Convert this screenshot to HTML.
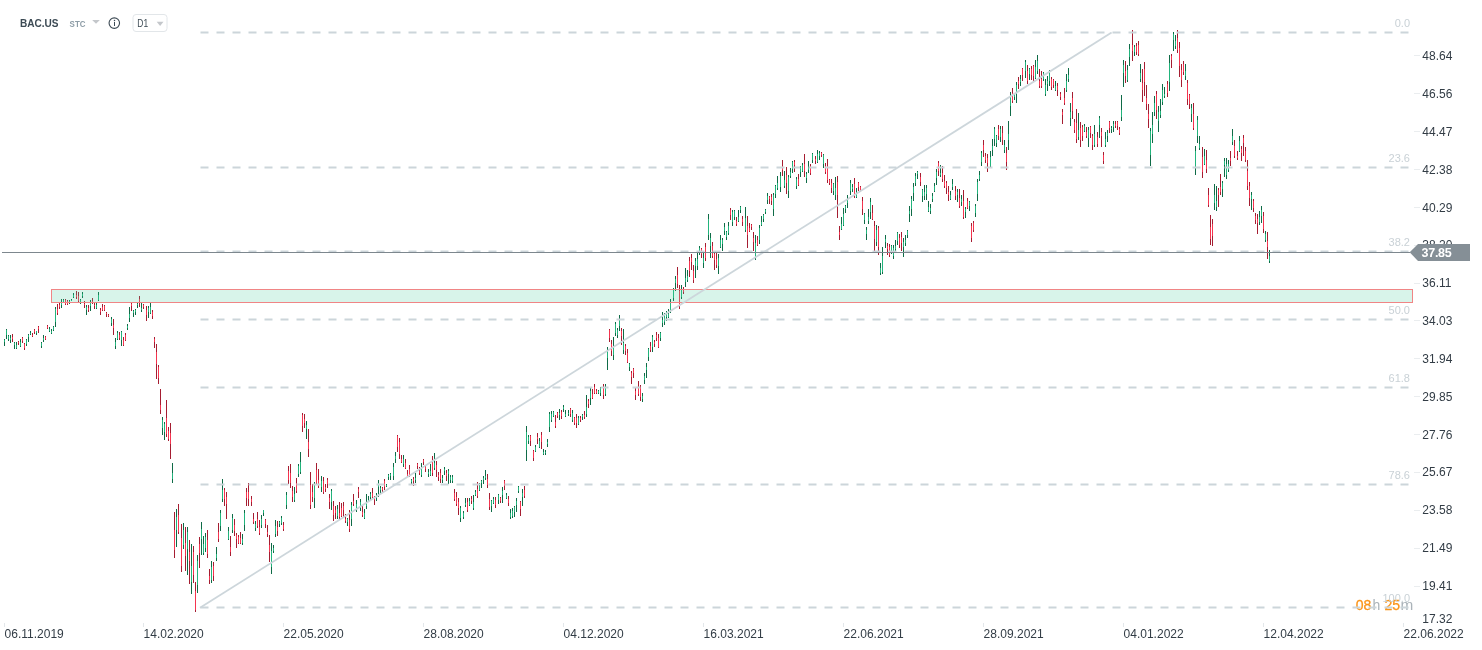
<!DOCTYPE html>
<html><head><meta charset="utf-8"><title>BAC.US</title><style>
html,body{margin:0;padding:0;background:#fff;width:1482px;height:650px;overflow:hidden}
svg{position:absolute;left:0;top:0;display:block;will-change:transform}
text{font-family:"Liberation Sans",Arial,sans-serif}
</style></head><body>
<svg width="1482" height="650" viewBox="0 0 1482 650">
<g stroke-width="1" fill="none" shape-rendering="crispEdges"><path d="M4.5 339V346M6.5 329V339M8.5 335V341M10.5 335V343M14.5 342V349M16.5 342V349M20.5 339V347M26.5 339V346M28.5 334V342M30.5 331V335M36.5 331V335M41.5 342V348M43.5 335V342M49.5 327V332M51.5 329V334M53.5 326V331M55.5 307V327M61.5 299V308M63.5 299V302M69.5 300V304M71.5 299V301M73.5 293V298M80.5 299V304M82.5 292V298M86.5 305V315M90.5 300V311M96.5 303V309M98.5 292V301M111.5 317V326M115.5 338V349M117.5 331V340M121.5 331V346M127.5 324V330M129.5 307V322M133.5 310V317M135.5 309V315M137.5 303V308M141.5 303V312M148.5 306V318M150.5 303V314M162.5 417V435M164.5 422V440M172.5 463V483M176.5 509V547M183.5 523V549M187.5 527V575M191.5 544V594M197.5 555V593M201.5 522V555M203.5 536V555M205.5 533V552M211.5 561V583M216.5 547V561M220.5 510V531M222.5 479V502M228.5 527V540M232.5 514V533M242.5 534V545M244.5 510V531M255.5 521V531M261.5 515V528M263.5 510V516M271.5 543V574M273.5 545V553M275.5 520V537M279.5 521V527M281.5 516V525M286.5 492V509M294.5 487V502M298.5 464V477M300.5 452V474M306.5 421V439M314.5 482V508M321.5 476V492M331.5 489V510M337.5 505V519M347.5 518V526M351.5 502V526M356.5 500V512M360.5 499V511M364.5 509V519M366.5 494V509M368.5 496V502M370.5 492V500M376.5 493V501M378.5 480V497M380.5 486V494M386.5 484V487M388.5 474V480M390.5 473V480M393.5 463V480M395.5 452V463M403.5 455V467M411.5 479V484M415.5 473V483M421.5 463V477M428.5 469V477M430.5 464V476M434.5 453V470M442.5 475V483M444.5 467V475M448.5 469V484M450.5 475V483M452.5 475V483M460.5 506V522M463.5 511V519M465.5 498V507M469.5 498V506M473.5 495V510M475.5 490V496M479.5 483V491M481.5 480V488M483.5 476V484M485.5 470V480M491.5 500V512M493.5 497V504M498.5 494V504M502.5 487V503M506.5 493V499M510.5 509V519M512.5 508V518M514.5 506V517M516.5 498V512M518.5 486V493M522.5 489V506M526.5 426V461M528.5 435V444M535.5 445V452M539.5 438V448M543.5 449V455M545.5 450V455M547.5 439V447M549.5 412V432M551.5 411V422M553.5 411V417M559.5 409V420M563.5 405V412M565.5 410V417M568.5 410V416M572.5 410V422M578.5 416V425M582.5 414V420M586.5 395V417M590.5 388V405M598.5 390V394M600.5 387V396M605.5 384V396M607.5 347V370M613.5 337V360M615.5 322V336M617.5 328V338M619.5 315V331M623.5 329V354M629.5 363V371M642.5 393V402M644.5 373V384M646.5 363V378M648.5 348V361M652.5 335V352M660.5 332V341M662.5 312V327M664.5 313V325M666.5 311V321M668.5 309V318M670.5 299V313M673.5 288V301M675.5 276V291M681.5 285V299M685.5 268V287M687.5 270V282M695.5 258V278M697.5 253V270M699.5 246V255M703.5 253V268M708.5 214V240M710.5 233V258M718.5 254V274M720.5 235V248M722.5 238V251M724.5 223V235M726.5 231V240M728.5 222V235M732.5 210V226M734.5 210V220M738.5 210V222M740.5 206V213M745.5 207V232M755.5 235V260M759.5 225V244M761.5 216V226M763.5 214V222M765.5 209V214M767.5 193V204M773.5 193V216M775.5 185V198M777.5 176V190M780.5 172V192M784.5 171V188M788.5 175V198M790.5 168V178M792.5 161V173M796.5 177V189M800.5 166V177M802.5 163V172M806.5 172V183M808.5 161V173M812.5 153V163M817.5 150V163M819.5 151V160M823.5 154V168M833.5 183V195M835.5 177V200M841.5 217V230M843.5 208V226M845.5 205V213M847.5 195V208M850.5 180V195M852.5 184V192M856.5 188V198M864.5 213V224M866.5 227V240M868.5 209V224M870.5 198V219M876.5 225V246M880.5 263V275M882.5 247V274M885.5 235V248M891.5 245V254M893.5 245V259M895.5 240V251M897.5 232V245M903.5 238V257M905.5 235V246M907.5 230V238M909.5 206V222M911.5 196V216M913.5 183V201M915.5 173V186M917.5 171V179M922.5 189V202M924.5 185V200M926.5 185V200M928.5 201V212M930.5 204V214M932.5 193V202M934.5 183V192M936.5 169V185M940.5 165V177M950.5 191V200M952.5 179V190M957.5 189V202M961.5 195V206M965.5 207V218M969.5 201V211M975.5 204V217M977.5 179V201M979.5 171V181M981.5 151V166M990.5 151V168M992.5 139V156M994.5 127V146M996.5 135V147M1000.5 126V142M1004.5 140V153M1008.5 121V150M1010.5 92V116M1014.5 94V100M1016.5 82V103M1020.5 75V86M1025.5 60V78M1029.5 68V80M1035.5 60V79M1037.5 55V74M1043.5 72V81M1045.5 79V96M1047.5 76V91M1049.5 70V86M1055.5 81V91M1066.5 74V92M1068.5 68V82M1070.5 103V126M1078.5 113V140M1084.5 124V132M1088.5 127V147M1094.5 125V147M1099.5 116V138M1105.5 132V147M1107.5 130V142M1111.5 126V133M1113.5 121V132M1121.5 95V121M1123.5 60V87M1127.5 65V82M1129.5 44V66M1134.5 45V56M1140.5 64V82M1150.5 128V166M1152.5 112V143M1154.5 96V116M1158.5 106V132M1160.5 99V118M1162.5 84V105M1164.5 87V98M1169.5 55V91M1173.5 32V51M1175.5 35V49M1185.5 64V80M1191.5 104V122M1195.5 146V175M1197.5 116V143M1199.5 136V150M1204.5 149V165M1214.5 184V210M1216.5 186V211M1222.5 181V197M1224.5 158V177M1226.5 158V179M1228.5 160V172M1232.5 129V145M1239.5 136V152M1251.5 192V210M1259.5 211V225M1261.5 206V223M1265.5 231V242M1269.5 250V263" stroke="#0f6b47"/><path d="M4.5 340V342M6.5 330V335M8.5 336V339M10.5 338V340M14.5 343V345M16.5 345V348M20.5 342V346M26.5 340V344M28.5 335V337M30.5 333V334M36.5 331V333M41.5 343V346M43.5 338V340M49.5 329V331M51.5 331V333M53.5 327V330M55.5 309V322M61.5 303V305M63.5 300V302M69.5 301V303M71.5 300V301M73.5 295V297M80.5 300V303M82.5 294V296M86.5 307V310M90.5 303V306M96.5 305V308M98.5 295V300M111.5 319V323M115.5 342V346M117.5 333V339M121.5 332V340M127.5 326V328M129.5 314V318M133.5 311V313M135.5 310V312M137.5 304V305M141.5 308V310M148.5 308V312M150.5 307V313M162.5 420V428M164.5 424V432M172.5 473V479M176.5 517V530M183.5 530V545M187.5 532V549M191.5 566V582M197.5 561V585M201.5 529V539M203.5 544V553M205.5 537V548M211.5 567V580M216.5 554V558M220.5 513V526M222.5 490V499M228.5 531V539M232.5 518V530M242.5 539V543M244.5 513V525M255.5 524V528M261.5 519V525M263.5 510V513M271.5 551V567M273.5 548V551M275.5 526V534M279.5 522V524M281.5 518V523M286.5 495V505M294.5 494V500M298.5 466V474M300.5 462V472M306.5 425V429M314.5 485V498M321.5 481V487M331.5 491V502M337.5 509V516M347.5 519V522M351.5 505V519M356.5 504V509M360.5 502V508M364.5 513V518M366.5 502V506M368.5 500V501M370.5 494V497M376.5 495V498M378.5 483V487M380.5 488V490M386.5 485V486M388.5 475V477M390.5 474V476M393.5 467V476M395.5 456V459M403.5 459V464M411.5 480V482M415.5 478V480M421.5 467V475M428.5 472V474M430.5 471V475M434.5 463V468M442.5 478V480M444.5 469V471M448.5 471V474M450.5 477V480M452.5 477V481M460.5 508V518M463.5 513V517M465.5 503V505M469.5 501V505M473.5 502V508M475.5 492V495M479.5 486V490M481.5 481V483M483.5 478V480M485.5 476V478M491.5 501V506M493.5 499V503M498.5 495V500M502.5 491V495M506.5 495V498M510.5 513V517M512.5 511V516M514.5 507V512M516.5 501V505M518.5 487V491M522.5 493V497M526.5 432V450M528.5 437V441M535.5 447V451M539.5 441V447M543.5 452V454M545.5 452V453M547.5 442V444M549.5 414V427M551.5 414V420M553.5 412V416M559.5 413V415M563.5 407V409M565.5 414V416M568.5 413V414M572.5 413V420M578.5 418V424M582.5 415V417M586.5 407V414M590.5 391V398M598.5 391V393M600.5 388V393M605.5 388V394M607.5 350V358M613.5 347V355M615.5 324V333M617.5 330V335M619.5 319V326M623.5 343V350M629.5 364V367M642.5 396V399M644.5 376V380M646.5 367V370M648.5 349V357M652.5 337V347M660.5 333V338M662.5 320V323M664.5 315V322M666.5 312V317M668.5 314V317M670.5 303V311M673.5 290V298M675.5 279V283M681.5 290V297M685.5 278V282M687.5 276V280M695.5 261V266M697.5 259V266M699.5 248V251M703.5 258V263M708.5 219V235M710.5 238V246M718.5 258V266M720.5 240V247M722.5 240V244M724.5 227V231M726.5 232V237M728.5 226V233M732.5 212V222M734.5 211V217M738.5 217V221M740.5 207V210M745.5 218V230M755.5 243V258M759.5 228V240M761.5 222V225M763.5 215V219M765.5 210V212M767.5 196V200M773.5 195V209M775.5 186V194M777.5 183V188M780.5 176V187M784.5 180V186M788.5 177V191M790.5 172V176M792.5 162V169M796.5 179V186M800.5 168V172M802.5 165V171M806.5 174V178M808.5 168V170M812.5 154V160M817.5 154V162M819.5 153V156M823.5 155V164M833.5 184V191M835.5 188V195M841.5 224V229M843.5 214V225M845.5 206V209M847.5 200V203M850.5 183V191M852.5 187V189M856.5 192V197M864.5 214V220M866.5 230V234M868.5 217V221M870.5 202V212M876.5 230V242M880.5 268V273M882.5 256V272M885.5 239V242M891.5 246V252M893.5 248V256M895.5 246V249M897.5 233V241M903.5 242V247M905.5 240V243M907.5 231V235M909.5 211V214M911.5 199V209M913.5 187V193M915.5 176V183M917.5 172V174M922.5 190V196M924.5 192V196M926.5 188V194M928.5 207V211M930.5 208V211M932.5 196V199M934.5 186V191M936.5 172V178M940.5 173V175M950.5 195V199M952.5 184V187M957.5 192V195M961.5 199V202M965.5 209V212M969.5 202V206M975.5 206V213M977.5 182V194M979.5 175V179M981.5 153V162M990.5 157V166M992.5 146V150M994.5 129V139M996.5 136V143M1000.5 129V137M1004.5 145V150M1008.5 134V140M1010.5 96V106M1014.5 95V97M1016.5 85V94M1020.5 79V82M1025.5 62V71M1029.5 69V74M1035.5 67V78M1037.5 61V71M1043.5 73V79M1045.5 85V94M1047.5 81V84M1049.5 72V81M1055.5 86V90M1066.5 81V90M1068.5 75V79M1070.5 112V118M1078.5 130V137M1084.5 126V131M1088.5 130V138M1094.5 134V145M1099.5 118V125M1105.5 139V145M1107.5 133V136M1111.5 128V129M1113.5 124V127M1121.5 110V117M1123.5 65V73M1127.5 70V80M1129.5 49V57M1134.5 47V52M1140.5 73V79M1150.5 131V155M1152.5 125V134M1154.5 103V112M1158.5 112V121M1160.5 111V115M1162.5 90V102M1164.5 94V96M1169.5 63V82M1173.5 34V40M1175.5 41V46M1185.5 71V76M1191.5 108V114M1195.5 151V167M1197.5 120V136M1199.5 144V148M1204.5 156V164M1214.5 195V203M1216.5 201V207M1222.5 183V189M1224.5 161V165M1226.5 164V175M1228.5 164V170M1232.5 136V142M1239.5 141V151M1251.5 195V199M1259.5 217V222M1261.5 210V216M1265.5 234V240M1269.5 256V261" stroke="#22b47c"/><path d="M12.5 334V342M18.5 341V345M22.5 337V343M24.5 343V350M32.5 333V337M34.5 329V334M38.5 326V333M45.5 336V340M47.5 325V329M57.5 304V315M59.5 303V309M65.5 299V305M67.5 300V305M76.5 291V299M78.5 292V302M84.5 301V308M88.5 305V312M92.5 298V304M94.5 303V309M100.5 308V315M102.5 304V311M104.5 305V311M106.5 312V317M108.5 314V317M113.5 319V335M119.5 332V340M123.5 337V346M125.5 333V341M131.5 303V311M139.5 296V307M143.5 304V309M146.5 306V321M152.5 310V319M154.5 337V348M156.5 344V379M158.5 365V384M160.5 389V414M166.5 400V437M168.5 427V441M170.5 423V459M174.5 512V558M178.5 504V534M181.5 524V572M185.5 527V571M189.5 540V584M193.5 546V583M195.5 582V612M199.5 537V568M207.5 530V558M209.5 569V584M213.5 562V581M218.5 523V542M224.5 488V506M226.5 492V519M230.5 536V556M234.5 519V536M236.5 533V548M238.5 535V544M240.5 532V544M246.5 488V506M248.5 483V506M251.5 496V506M253.5 513V524M257.5 512V528M259.5 520V535M265.5 519V528M267.5 525V537M269.5 535V562M277.5 521V536M283.5 522V531M288.5 466V484M290.5 464V488M292.5 486V502M296.5 478V493M302.5 413V432M304.5 414V428M308.5 429V457M310.5 472V509M312.5 484V502M316.5 463V484M318.5 469V488M323.5 477V494M325.5 484V492M327.5 478V488M329.5 494V509M333.5 501V521M335.5 506V519M339.5 502V519M341.5 503V517M343.5 502V517M345.5 514V523M349.5 510V532M353.5 494V506M358.5 487V498M362.5 506V517M372.5 488V498M374.5 496V505M382.5 487V492M384.5 479V490M397.5 435V452M399.5 438V459M401.5 455V463M405.5 459V469M407.5 470V477M409.5 465V477M413.5 477V486M417.5 463V469M419.5 467V475M423.5 459V465M425.5 465V472M432.5 456V476M436.5 461V477M438.5 472V481M440.5 469V483M446.5 470V481M454.5 489V501M456.5 492V506M458.5 498V515M467.5 498V512M471.5 496V504M477.5 482V498M487.5 474V488M489.5 493V510M495.5 497V508M500.5 497V503M504.5 480V490M508.5 496V506M520.5 501V516M524.5 486V498M530.5 435V446M533.5 450V461M537.5 433V444M541.5 432V449M555.5 415V428M557.5 412V418M561.5 410V419M570.5 408V417M574.5 417V425M576.5 414V428M580.5 416V422M584.5 411V419M588.5 399V408M592.5 389V399M594.5 384V394M596.5 389V394M603.5 384V399M609.5 329V342M611.5 340V356M621.5 328V345M625.5 344V355M627.5 349V363M631.5 371V384M633.5 368V378M635.5 388V400M638.5 381V396M640.5 385V401M650.5 342V352M654.5 340V347M656.5 332V341M658.5 334V348M677.5 267V288M679.5 285V309M683.5 287V294M689.5 257V277M691.5 254V270M693.5 265V283M701.5 248V258M705.5 243V261M712.5 242V258M714.5 252V270M716.5 253V268M730.5 208V220M736.5 217V226M742.5 216V226M747.5 216V248M749.5 223V232M751.5 224V230M753.5 232V251M757.5 236V246M769.5 196V204M771.5 194V205M782.5 160V176M786.5 167V194M794.5 160V172M798.5 174V186M804.5 154V177M810.5 164V175M815.5 156V164M821.5 152V157M825.5 163V174M827.5 159V183M829.5 179V185M831.5 179V193M837.5 176V218M839.5 226V240M854.5 178V198M858.5 182V191M860.5 186V192M862.5 197V215M872.5 205V220M874.5 221V251M878.5 226V255M887.5 243V255M889.5 244V257M899.5 234V248M901.5 232V251M920.5 173V186M938.5 161V176M942.5 166V182M944.5 175V188M946.5 181V194M948.5 186V201M955.5 186V200M959.5 189V208M963.5 190V219M967.5 198V209M971.5 223V242M973.5 221V232M983.5 140V157M985.5 153V163M987.5 154V172M998.5 125V140M1002.5 126V145M1006.5 147V170M1012.5 88V103M1018.5 77V89M1022.5 68V81M1027.5 65V84M1031.5 66V80M1033.5 65V81M1039.5 69V88M1041.5 71V88M1051.5 77V90M1053.5 79V88M1057.5 83V96M1060.5 92V100M1062.5 109V124M1064.5 88V105M1072.5 92V119M1074.5 119V133M1076.5 109V143M1080.5 122V147M1082.5 125V141M1086.5 127V138M1090.5 126V138M1092.5 134V150M1097.5 132V147M1101.5 128V147M1103.5 152V164M1109.5 121V133M1115.5 121V128M1117.5 121V130M1119.5 127V135M1125.5 61V83M1132.5 30V61M1136.5 43V55M1138.5 41V56M1142.5 69V102M1144.5 62V96M1146.5 85V110M1148.5 104V128M1156.5 91V119M1167.5 81V97M1171.5 54V68M1177.5 30V53M1179.5 42V77M1181.5 64V87M1183.5 61V75M1187.5 80V105M1189.5 94V109M1193.5 103V130M1202.5 147V178M1206.5 150V173M1208.5 188V207M1210.5 215V245M1212.5 219V246M1218.5 188V207M1220.5 174V195M1230.5 151V166M1234.5 140V158M1237.5 151V160M1241.5 146V161M1243.5 135V156M1245.5 147V162M1247.5 160V190M1249.5 182V206M1253.5 199V212M1255.5 213V224M1257.5 214V234M1263.5 212V233M1267.5 232V259" stroke="#a51d31"/><path d="M12.5 337V339M18.5 342V343M22.5 338V341M24.5 344V348M32.5 335V336M34.5 330V332M38.5 327V329M45.5 337V339M47.5 326V328M57.5 309V313M59.5 305V307M65.5 300V304M67.5 301V304M76.5 295V297M78.5 296V301M84.5 304V305M88.5 308V310M92.5 301V303M94.5 305V306M100.5 310V312M102.5 307V310M104.5 306V310M106.5 313V314M108.5 315V316M113.5 325V328M119.5 335V338M123.5 340V345M125.5 335V340M131.5 304V306M139.5 299V302M143.5 305V307M146.5 310V315M152.5 312V316M154.5 339V342M156.5 352V364M158.5 367V378M160.5 405V410M166.5 418V434M168.5 431V439M170.5 433V444M174.5 530V550M178.5 515V532M181.5 538V566M185.5 543V556M189.5 552V561M193.5 552V575M195.5 591V610M199.5 544V553M207.5 540V554M209.5 576V580M213.5 566V576M218.5 532V539M224.5 490V499M226.5 497V504M230.5 547V552M234.5 525V531M236.5 535V539M238.5 537V543M240.5 538V543M246.5 492V498M248.5 492V499M251.5 499V502M253.5 519V522M257.5 519V526M259.5 527V533M265.5 520V524M267.5 532V534M269.5 545V552M277.5 527V531M283.5 525V529M288.5 471V480M290.5 473V483M292.5 491V497M296.5 483V491M302.5 415V426M304.5 419V423M308.5 442V449M310.5 485V505M312.5 492V497M316.5 470V483M318.5 480V486M323.5 481V492M325.5 487V489M327.5 480V484M329.5 498V502M333.5 506V515M335.5 510V513M339.5 513V517M341.5 508V516M343.5 506V510M345.5 519V521M349.5 520V529M353.5 501V504M358.5 489V492M362.5 512V515M372.5 493V497M374.5 497V500M382.5 488V490M384.5 481V487M397.5 436V447M399.5 442V454M401.5 459V462M405.5 463V468M407.5 474V476M409.5 469V475M413.5 479V481M417.5 464V466M419.5 471V473M423.5 460V462M425.5 467V469M432.5 460V473M436.5 465V470M438.5 475V477M440.5 473V479M446.5 473V476M454.5 493V499M456.5 497V504M458.5 502V508M467.5 502V510M471.5 499V501M477.5 489V496M487.5 479V485M489.5 499V507M495.5 500V505M500.5 498V501M504.5 481V486M508.5 499V503M520.5 502V509M524.5 490V496M530.5 436V441M533.5 451V458M537.5 437V439M541.5 435V442M555.5 422V426M557.5 413V416M561.5 412V416M570.5 409V414M574.5 418V423M576.5 418V423M580.5 418V420M584.5 415V417M588.5 401V404M592.5 394V398M594.5 387V393M596.5 391V393M603.5 387V395M609.5 330V338M611.5 344V351M621.5 331V336M625.5 346V351M627.5 353V362M631.5 373V377M633.5 369V373M635.5 391V395M638.5 387V394M640.5 388V397M650.5 346V350M654.5 342V344M656.5 335V338M658.5 338V347M677.5 275V284M679.5 291V306M683.5 289V292M689.5 261V271M691.5 258V262M693.5 271V280M701.5 249V254M705.5 247V258M712.5 246V256M714.5 254V260M716.5 259V265M730.5 210V215M736.5 221V224M742.5 219V222M747.5 226V235M749.5 228V231M751.5 225V227M753.5 238V242M757.5 240V245M769.5 197V199M771.5 197V201M782.5 166V170M786.5 175V183M794.5 162V165M798.5 179V185M804.5 164V171M810.5 166V173M815.5 159V161M821.5 153V155M825.5 166V172M827.5 166V180M829.5 180V183M831.5 183V188M837.5 182V195M839.5 232V235M854.5 184V194M858.5 183V187M860.5 187V190M862.5 201V209M872.5 213V219M874.5 226V239M878.5 228V247M887.5 246V249M889.5 247V255M899.5 238V245M901.5 237V243M920.5 177V182M938.5 163V171M942.5 173V179M944.5 181V186M946.5 183V188M948.5 192V195M955.5 191V196M959.5 198V206M963.5 201V217M967.5 201V208M971.5 226V238M973.5 223V230M983.5 145V150M985.5 156V160M987.5 158V163M998.5 129V136M1002.5 133V140M1006.5 153V162M1012.5 93V101M1018.5 81V84M1022.5 69V75M1027.5 71V81M1031.5 69V75M1033.5 66V76M1039.5 81V86M1041.5 79V86M1051.5 79V87M1053.5 80V85M1057.5 86V90M1060.5 94V97M1062.5 112V115M1064.5 98V103M1072.5 98V111M1074.5 122V130M1076.5 123V139M1080.5 128V140M1082.5 127V136M1086.5 132V136M1090.5 127V133M1092.5 136V145M1097.5 137V144M1101.5 132V136M1103.5 155V161M1109.5 122V128M1115.5 124V126M1117.5 122V126M1119.5 129V133M1125.5 71V76M1132.5 45V51M1136.5 46V52M1138.5 45V54M1142.5 83V90M1144.5 69V82M1146.5 98V104M1148.5 114V119M1156.5 94V110M1167.5 84V93M1171.5 56V60M1177.5 38V50M1179.5 48V66M1181.5 70V80M1183.5 64V72M1187.5 83V99M1189.5 95V104M1193.5 114V128M1202.5 157V172M1206.5 160V169M1208.5 195V205M1210.5 227V239M1212.5 224V236M1218.5 190V195M1220.5 187V192M1230.5 158V161M1234.5 146V156M1237.5 156V158M1241.5 149V153M1243.5 138V143M1245.5 151V160M1247.5 171V186M1249.5 186V198M1253.5 201V208M1255.5 216V220M1257.5 219V223M1263.5 216V229M1267.5 241V247" stroke="#f5344f"/></g>
<rect x="51.5" y="289.5" width="1361" height="13" fill="rgba(60,200,150,0.2)" stroke="#f08585" stroke-width="1" shape-rendering="crispEdges"/>
<g font-size="14"><text x="1355.7" y="610" fill="#fb9418" stroke="#fb9418" stroke-width="0.3">08</text><text x="1372.4" y="610" fill="#aab3b9">h</text><text x="1384.5" y="610" fill="#fb9418" stroke="#fb9418" stroke-width="0.3">25</text><text x="1400.6" y="610" fill="#aab3b9" textLength="12.8" lengthAdjust="spacingAndGlyphs">m</text></g>
<g stroke="#ccd5da" stroke-width="2" stroke-dasharray="8 8"><line x1="200.5" y1="32.5" x2="1408.5" y2="32.5"/><line x1="200.5" y1="167.5" x2="1408.5" y2="167.5"/><line x1="200.5" y1="251.5" x2="1408.5" y2="251.5"/><line x1="200.5" y1="319.5" x2="1408.5" y2="319.5"/><line x1="200.5" y1="387.5" x2="1408.5" y2="387.5"/><line x1="200.5" y1="484.5" x2="1408.5" y2="484.5"/><line x1="200.5" y1="607.5" x2="1408.5" y2="607.5"/></g>
<line x1="200" y1="607.8" x2="1111.6" y2="32.6" stroke="#cdd6db" stroke-width="1.8"/>
<path d="M2 252.5H1410" stroke="#7d878e" stroke-width="1" shape-rendering="crispEdges"/>
<g fill="#c9d1d6" font-size="11" text-anchor="end"><text x="1410" y="27.0">0.0</text><text x="1410" y="162.0">23.6</text><text x="1410" y="246.0">38.2</text><text x="1410" y="314.0">50.0</text><text x="1410" y="382.0">61.8</text><text x="1410" y="479.0">78.6</text><text x="1410" y="602.0">100.0</text></g>
<path d="M1414 55.5H1420M1414 93.5H1420M1414 131.5H1420M1414 169.5H1420M1414 207.5H1420M1414 245.5H1420M1414 283.5H1420M1414 320.5H1420M1414 358.5H1420M1414 396.5H1420M1414 434.5H1420M1414 472.5H1420M1414 510.5H1420M1414 548.5H1420M1414 586.5H1420" stroke="#eaedef" stroke-width="1" shape-rendering="crispEdges"/>
<g fill="#323c45" font-size="12"><text x="1422.3" y="60.0">48.64</text><text x="1422.3" y="97.9">46.56</text><text x="1422.3" y="135.8">44.47</text><text x="1422.3" y="173.6">42.38</text><text x="1422.3" y="211.5">40.29</text><text x="1422.3" y="249.3">38.20</text><text x="1422.3" y="287.2">36.11</text><text x="1422.3" y="325.0">34.03</text><text x="1422.3" y="362.9">31.94</text><text x="1422.3" y="400.7">29.85</text><text x="1422.3" y="438.6">27.76</text><text x="1422.3" y="476.4">25.67</text><text x="1422.3" y="514.2">23.58</text><text x="1422.3" y="552.1">21.49</text><text x="1422.3" y="589.9">19.41</text><text x="1422.3" y="622.9">17.32</text></g>
<path d="M4.5 623V627M143.5 623V627M283.5 623V627M423.5 623V627M563.5 623V627M703.5 623V627M843.5 623V627M983.5 623V627M1123.5 623V627M1263.5 623V627M1403.5 623V627" stroke="#e3e7ea" stroke-width="1" shape-rendering="crispEdges"/>
<g fill="#323c45" font-size="12"><text x="4.6" y="637.6">06.11.2019</text><text x="143.6" y="637.6">14.02.2020</text><text x="283.6" y="637.6">22.05.2020</text><text x="423.6" y="637.6">28.08.2020</text><text x="563.6" y="637.6">04.12.2020</text><text x="703.6" y="637.6">16.03.2021</text><text x="843.6" y="637.6">22.06.2021</text><text x="983.6" y="637.6">28.09.2021</text><text x="1123.6" y="637.6">04.01.2022</text><text x="1263.6" y="637.6">12.04.2022</text><text x="1403.6" y="637.6">22.06.2022</text></g>
<polygon points="1409.7,252.3 1418,244 1470,244 1470,261 1418,261" fill="#858f96"/>
<text x="1421.6" y="257.1" fill="#fff" font-size="12.5" font-weight="bold" letter-spacing="-0.3">37.85</text>
<text x="19.9" y="26.9" fill="#3c4a54" font-size="11" font-weight="bold" textLength="38.6" lengthAdjust="spacingAndGlyphs">BAC.US</text>
<text x="69.6" y="26.9" fill="#8d9ca6" font-size="8.6" font-weight="bold" textLength="15.9" lengthAdjust="spacingAndGlyphs">STC</text>
<polygon points="92.2,19.9 99.8,19.9 96,23.8" fill="#c4c7cb"/>
<circle cx="114.3" cy="23.1" r="5.25" fill="none" stroke="#3c4a54" stroke-width="1.1"/>
<rect x="114" y="22" width="1" height="4" fill="#3c4a54"/><circle cx="114.5" cy="20.6" r="0.75" fill="#3c4a54"/>
<rect x="133" y="14.5" width="34" height="17" rx="3" fill="#fff" stroke="#e2e6e9" stroke-width="1"/>
<text x="137.3" y="26.9" fill="#3c4a54" font-size="10.2" textLength="10.8" lengthAdjust="spacingAndGlyphs">D1</text>
<polygon points="156.7,21.8 163.5,21.8 160.1,25.9" fill="#c4c7cb"/>
</svg>
</body></html>
